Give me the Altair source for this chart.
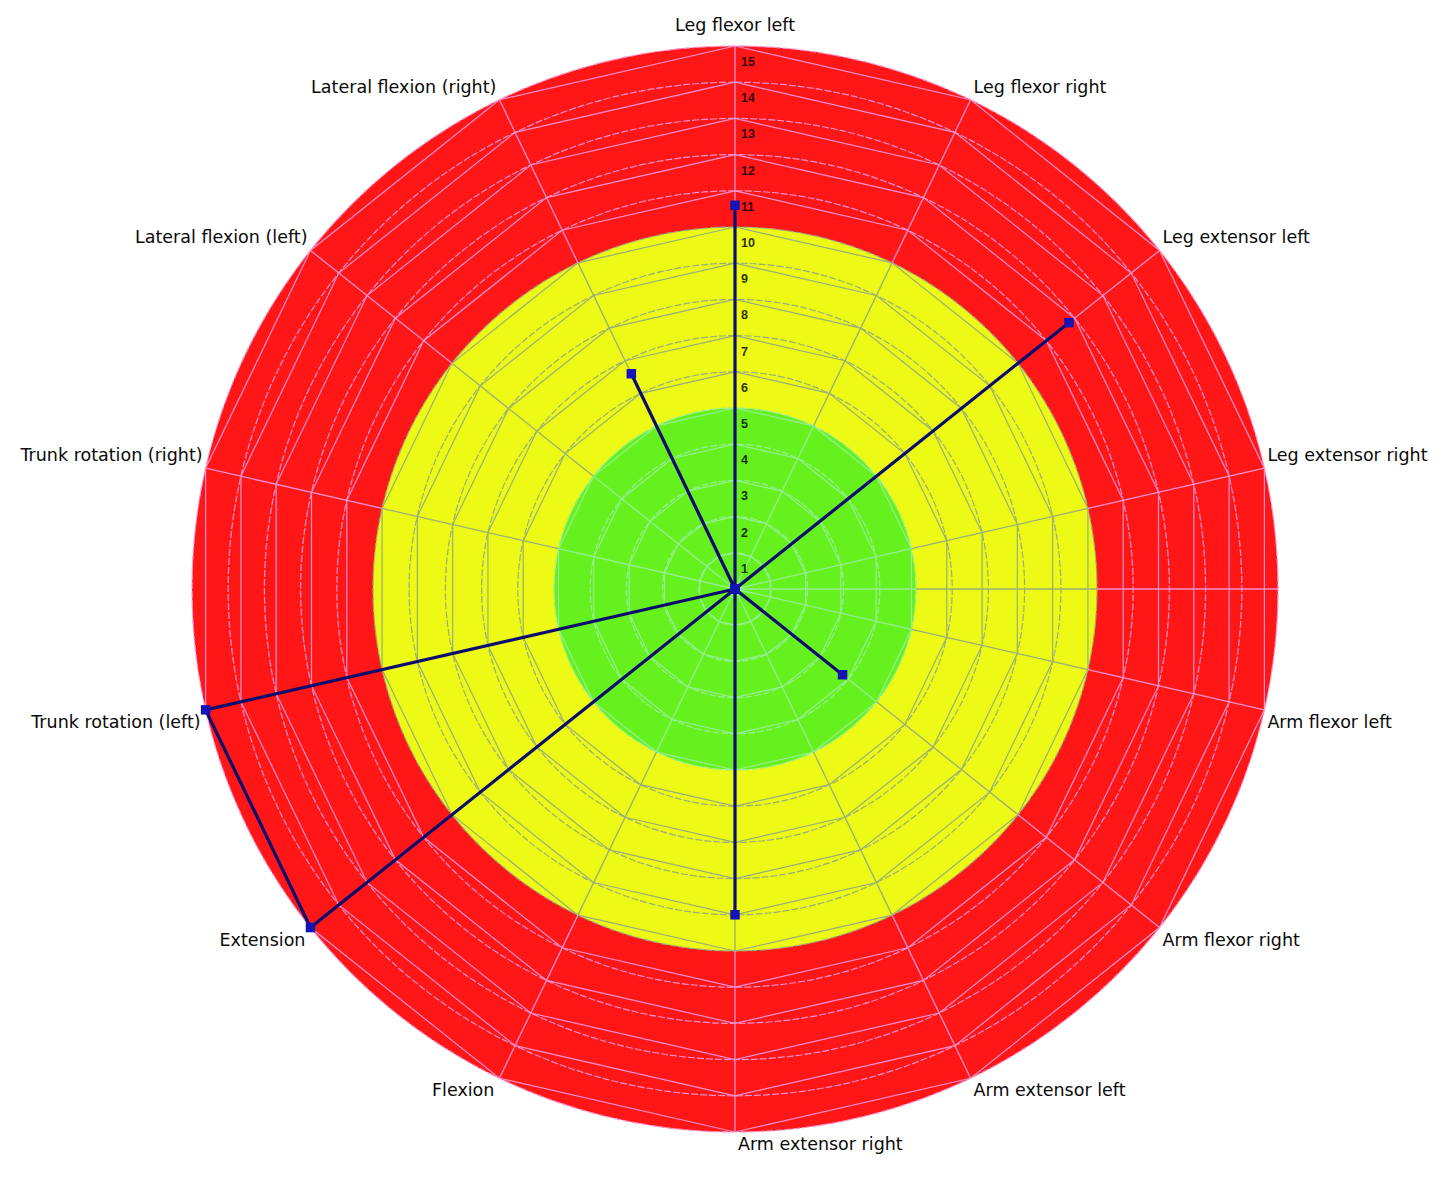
import altair as alt
import pandas as pd

# ---------------- data ----------------
categories = [
    "Leg flexor left", "Leg flexor right", "Leg extensor left", "Leg extensor right",
    "Arm flexor left", "Arm flexor right", "Arm extensor left", "Arm extensor right",
    "Flexion", "Extension", "Trunk rotation (left)", "Trunk rotation (right)",
    "Lateral flexion (left)", "Lateral flexion (right)",
]
values = [10.6, 0, 11.8, 0, 0, 3.8, 0, 9.0, 0, 15.0, 15.0, 0, 0, 6.6]
ring_ticks = list(range(1, 16))
zone_names = ["green", "yellow", "red"]
zone_start = [0, 5, 10]
zone_end = [5, 10, 15]
zone_colors = ["#66F01E", "#ECFA16", "#FF1616"]
grid_colors = ["#92F092", "#9AAE78", "#F590CC"]

# ---------------- layout ----------------
N = len(categories)
RMAX = max(ring_ticks)
PX = 36.2                 # pixels per unit of radius
W, H = 1437, 1165
CX, CY = 727, 581         # centre inside the plot area
xdom = [-CX / PX, (W - CX) / PX]
ydom = [-(H - CY) / PX, CY / PX]

xs = alt.Scale(domain=xdom, nice=False, zero=False)
ys = alt.Scale(domain=ydom, nice=False, zero=False)
rs = alt.Scale(type="linear", domain=[0, RMAX], range=[0, RMAX * PX], zero=True, nice=False)
gs = alt.Scale(domain=zone_names, range=grid_colors)


def X(f):
    return alt.X(f, type="quantitative", scale=xs, axis=None)


def Y(f):
    return alt.Y(f, type="quantitative", scale=ys, axis=None)


def zone_of(r):
    for z, a, b in zip(zone_names, zone_start, zone_end):
        if a < r <= b:
            return z
    return zone_names[-1]


cat_df = pd.DataFrame({"idx": list(range(N)), "category": categories, "value": values})
zone_df = pd.DataFrame({"zone": zone_names, "r0": zone_start, "r1": zone_end})
ring_df = pd.DataFrame({"r": ring_ticks, "label": [str(t) for t in ring_ticks],
                        "zone": [zone_of(t) for t in ring_ticks]})
web_df = pd.DataFrame([{"r": r, "k": k, "zone": zone_of(r)} for r in ring_ticks for k in range(N + 1)])
spoke_df = pd.DataFrame([{"idx": i, "zone": z, "r0": a, "r1": b}
                         for i in range(N) for z, a, b in zip(zone_names, zone_start, zone_end)])

ang = f"datum.idx * 2 * PI / {N}"
STK = alt.Stroke("zone:N", scale=gs, legend=None)

# zones
zones = alt.Chart(zone_df).transform_calculate(c0="0").mark_arc(strokeWidth=0).encode(
    x=X("c0"), y=Y("c0"),
    radius=alt.Radius("r1:Q", scale=rs, stack=False),
    radius2="r0:Q",
    color=alt.Color("zone:N", scale=alt.Scale(domain=zone_names, range=zone_colors), legend=None),
)

circles = alt.Chart(ring_df).transform_calculate(c0="0").mark_arc(
    fillOpacity=0, strokeWidth=1.2, strokeDash=[7, 2]
).encode(x=X("c0"), y=Y("c0"), radius=alt.Radius("r:Q", scale=rs, stack=False), stroke=STK)

web = alt.Chart(web_df).transform_calculate(
    wx=f"datum.r * sin(datum.k * 2 * PI / {N})",
    wy=f"datum.r * cos(datum.k * 2 * PI / {N})",
).mark_line(strokeWidth=1.2).encode(
    x=X("wx"), y=Y("wy"),
    detail="r:N",
    order="k:Q",
    stroke=STK,
)

spokes = alt.Chart(spoke_df).transform_calculate(
    ax=f"datum.r0 * sin({ang})", ay=f"datum.r0 * cos({ang})",
    bx=f"datum.r1 * sin({ang})", by=f"datum.r1 * cos({ang})",
).mark_rule(strokeWidth=1.3).encode(
    x=X("ax"), y=Y("ay"), x2="bx:Q", y2="by:Q", stroke=STK
)

hline = alt.Chart(zone_df).transform_calculate(c0="0").mark_rule(strokeWidth=1.3).encode(
    x=X("r0"), y=Y("c0"), x2="r1:Q", y2="c0:Q", stroke=STK
)

# radial tick labels
ticks = alt.Chart(ring_df).transform_calculate(c0="0").mark_text(
    align="left", baseline="middle", dx=6, dy=16, fontSize=12.5, fontWeight="bold",
    font="Liberation Sans", color="#000000", opacity=0.8
).encode(x=X("c0"), y=Y("r"), text="label:N")

# data line + markers
pts = alt.Chart(cat_df).transform_calculate(
    px=f"datum.value * sin({ang})", py=f"datum.value * cos({ang})"
)
line = pts.mark_line(color="#0C0C6E", strokeWidth=3.2).encode(
    x=X("px"), y=Y("py"), order="idx:Q",
)
markers = pts.mark_square(size=90, color="#1414B4", opacity=1).encode(
    x=X("px"), y=Y("py"),
)

# category labels
lab = alt.Chart(cat_df).transform_calculate(
    lx=f"{RMAX} * sin({ang})", ly=f"{RMAX} * cos({ang})"
)
tkw = dict(fontSize=17.5, font="DejaVu Sans", color="#0A0A0A")


def lab_layer(cond, **kw):
    return lab.transform_filter(cond).mark_text(**kw, **tkw).encode(
        x=X("lx"), y=Y("ly"), text="category:N"
    )


lab_top = lab_layer("datum.idx == 0", align="center", baseline="bottom", dy=-11)
lab_rt = lab_layer("datum.lx > 0.01 && datum.ly > 0", align="left", baseline="bottom", dx=3, dy=-3)
lab_rb = lab_layer("datum.lx > -0.01 && datum.ly < 0", align="left", baseline="top", dx=3, dy=4)
lab_lt = lab_layer("datum.lx < -0.01 && datum.ly > 0", align="right", baseline="bottom", dx=-3, dy=-3)
lab_lb = lab_layer("datum.lx < -0.01 && datum.ly < 0", align="right", baseline="top", dx=-5, dy=4)

chart = alt.layer(
    zones, circles, web, spokes, hline, ticks, line, markers,
    lab_top, lab_rt, lab_rb, lab_lt, lab_lb,
).properties(width=W, height=H, padding=0, background="white").configure_view(stroke=None)

chart.save("out.html", embed_options={"renderer": "svg", "actions": False})
